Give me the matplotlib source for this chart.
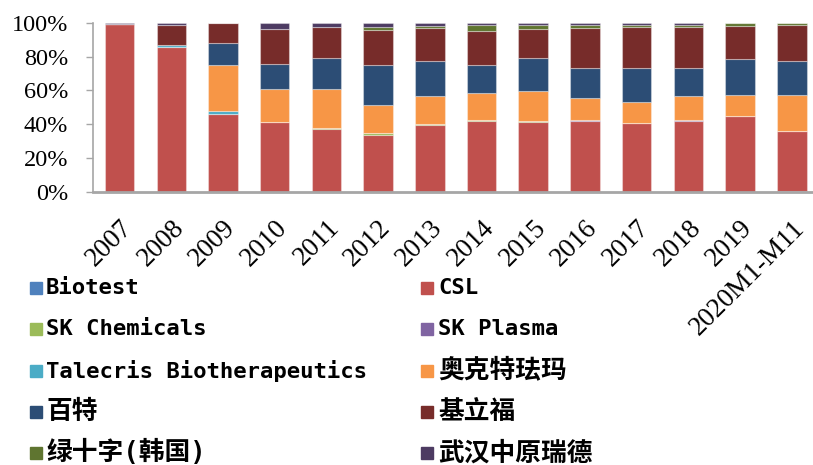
import matplotlib
matplotlib.use('Agg')
import matplotlib.pyplot as plt
from matplotlib.patches import Rectangle
from matplotlib.ticker import FuncFormatter
import numpy as np

# share of each company, % per year
years = ['2007', '2008', '2009', '2010', '2011', '2012', '2013', '2014',
         '2015', '2016', '2017', '2018', '2019', '2020M1-M11']
biotest = [0, 0, 0, 0, 0, 0, 0, 0, 0, 0, 0, 0, 0, 0.2]
csl = [99.5, 85.8, 46.2, 41.4, 37.1, 33.9, 39.8, 42.0, 41.4, 42.0, 40.8, 42.2, 44.8, 35.9]
sk_chem = [0, 0, 0, 0, 0.8, 0.8, 0.4, 0.6, 0.4, 0, 0, 0, 0, 0]
sk_plasma = [0, 0, 0, 0, 0, 0, 0, 0, 0, 0.6, 0, 0.4, 0, 0]
talecris = [0, 1.0, 1.6, 0, 0, 0, 0, 0, 0, 0, 0, 0, 0, 0]
octapharma = [0, 0, 27.2, 19.7, 22.7, 16.6, 16.6, 15.8, 17.6, 13.2, 12.6, 14.0, 12.4, 21.1]
baxter = [0, 0, 13.4, 14.8, 18.9, 23.7, 20.9, 16.6, 20.1, 17.8, 20.1, 17.0, 21.7, 20.5]
grifols = [0, 12.2, 11.6, 20.7, 18.1, 21.1, 19.3, 20.3, 17.0, 23.7, 23.9, 23.9, 19.3, 21.1]
green_cross = [0, 0, 0, 0, 0, 1.6, 1.4, 3.6, 2.4, 1.6, 1.2, 1.6, 1.8, 1.2]
wuhan = [0.5, 1.0, 0, 3.4, 2.4, 2.4, 1.6, 1.2, 1.2, 1.2, 1.4, 1.0, 0, 0]

names = ['Biotest', 'CSL', 'SK Chemicals', 'SK Plasma', 'Talecris Biotherapeutics',
         '奥克特珐玛', '百特', '基立福', '绿十字(韩国)', '武汉中原瑞德']
series = [biotest, csl, sk_chem, sk_plasma, talecris,
          octapharma, baxter, grifols, green_cross, wuhan]
colors = ['#4F81BD', '#C0504D', '#9BBB59', '#8064A2', '#4BACC6',
          '#F79646', '#2C4D75', '#772C2A', '#5F7530', '#4D3B62']

W, H = 813, 465
fig = plt.figure(figsize=(W / 100, H / 100), dpi=100)
ax = fig.add_axes([93 / W, 1 - 191.7 / H, 720 / W, 168.7 / H])

x = np.arange(len(years))
bottom = np.zeros(len(years))
for vals, c in zip(series, colors):
    ax.bar(x, vals, 0.57, bottom=bottom, color=c,
           edgecolor=(1, 1, 1, 0.35), linewidth=0.8)
    bottom += np.array(vals)

ax.set_xlim(-0.513, 13.41)
ax.set_ylim(0, 100)
ax.set_yticks([0, 20, 40, 60, 80, 100])
ax.yaxis.set_major_formatter(FuncFormatter(lambda v, p: '%d%%' % v))
ax.set_xticks(x)
ax.set_xticklabels(years)

for s in ['top', 'right']:
    ax.spines[s].set_visible(False)
ax.spines['left'].set_color('#A6A6A6')
ax.spines['left'].set_linewidth(1.2)
ax.spines['bottom'].set_color('#A6A6A6')
ax.spines['bottom'].set_linewidth(2)

ax.tick_params(axis='y', length=5, width=1, color='#A6A6A6', pad=13)
ax.tick_params(axis='x', length=0, pad=17)
for lab in ax.get_yticklabels():
    lab.set_fontfamily('Liberation Serif')
    lab.set_fontsize(17.5)
for lab in ax.get_xticklabels():
    lab.set_fontfamily('Liberation Serif')
    lab.set_fontsize(19.5)
plt.setp(ax.get_xticklabels(), rotation=45, ha='right', va='top',
         rotation_mode='anchor')

# legend, two columns
for i, (name, c) in enumerate(zip(names, colors)):
    row, col = i // 2, i % 2
    y = 288 + row * 41.3
    mx = 30 if col == 0 else 421
    tx = 46 if col == 0 else 438
    fig.add_artist(Rectangle((mx / W, 1 - (y + 6) / H), 12 / W, 12 / H,
                             transform=fig.transFigure, color=c))
    cjk = any(ord(ch) > 0x2000 for ch in name)
    fig.text(tx / W, 1 - y / H, name, va='center', ha='left',
             family=['DejaVu Sans Mono', 'Noto Sans CJK SC'],
             fontweight='bold', fontsize=18.5 if cjk else 16)

fig.savefig('out.png', dpi=100)
